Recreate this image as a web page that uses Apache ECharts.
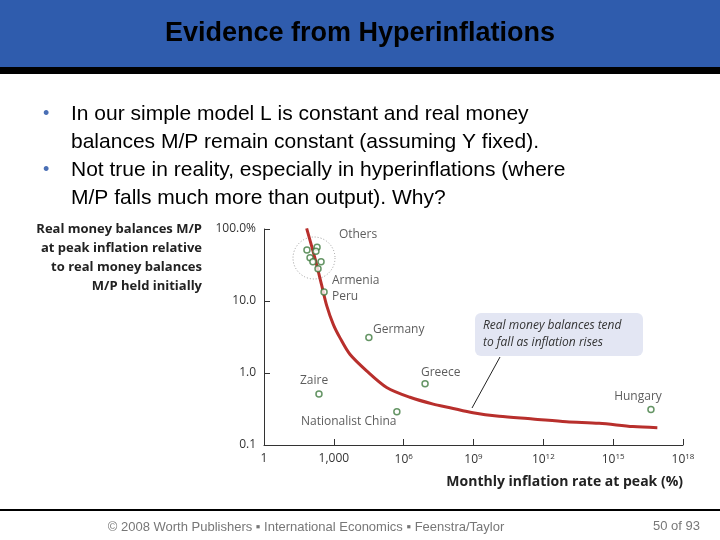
<!DOCTYPE html>
<html lang="en">
<head>
    <meta charset="UTF-8">
    <title>Evidence from Hyperinflations</title>
    <style>
        body { margin: 0; background: #fff; }
    </style>
</head>
<body>
<div id="main" style="width: 720px;height:540px;"></div>
<script src="https://cdn.jsdelivr.net/npm/echarts@6/dist/echarts.min.js"></script>
<script type="text/javascript">
    // 国家数据: [月通胀率峰值 %, 实际货币余额 %]
    var countryNames = ['Others', 'Others', 'Others', 'Others', 'Others', 'Others', 'Others',
        'Armenia/Peru', 'Germany', 'Zaire', 'Nationalist China', 'Greece', 'Hungary'];
    var inflationPeak = [70, 190, 170, 95, 126, 282, 209, 380, 32000, 230, 5.1e5, 8.3e6, 4.2e16];
    var moneyBalance = [51, 56, 49, 40, 35, 35, 28, 13.3, 3.1, 0.51, 0.29, 0.71, 0.31];

    // 趋势线
    var curveX = [68, 155, 300, 490, 955, 1820, 4900, 25700, 1.86e5, 1.86e6, 1.86e7, 9.8e7,
        9.5e8, 1.26e10, 3.5e11, 9.8e12, 2.5e14, 7.1e15, 7.9e16];
    var curveY = [102, 39, 16.6, 8.7, 4.7, 3.1, 1.82, 1.07, 0.63, 0.46, 0.37, 0.33,
        0.28, 0.25, 0.23, 0.21, 0.20, 0.18, 0.174];

    var labels = [
        {name: 'Others', x: 1650, y: 85},
        {name: 'Armenia', x: 830, y: 19},
        {name: 'Peru', x: 830, y: 11.7},
        {name: 'Germany', x: 48000, y: 4.0},
        {name: 'Zaire', x: 35, y: 0.78},
        {name: 'Nationalist China', x: 39, y: 0.21},
        {name: 'Greece', x: 5.5e6, y: 1.0},
        {name: 'Hungary', x: 1.1e15, y: 0.47}
    ];

    var points = inflationPeak.map(function (v, i) { return [v, moneyBalance[i]]; });
    var curve = curveX.map(function (v, i) { return [v, curveY[i]]; });

    var chart = echarts.init(document.getElementById('main'));
    chart.setOption({
        animation: false,
        grid: {left: 264, right: 37, top: 229, bottom: 95},
        xAxis: {
            type: 'log', logBase: 10, min: 1, max: 1e18, interval: 3,
            name: 'Monthly inflation rate at peak (%)',
            nameLocation: 'end', nameGap: 0,
            nameTextStyle: {fontSize: 14, fontWeight: 'bold', color: '#222', align: 'right',
                verticalAlign: 'top', padding: [30, 0, 0, 0], fontFamily: 'Open Sans'},
            axisLine: {lineStyle: {color: '#333'}},
            axisTick: {inside: true, length: 6, lineStyle: {color: '#333'}},
            splitLine: {show: false},
            axisLabel: {
                color: '#333', fontSize: 12, fontFamily: 'Open Sans',
                formatter: function (v) {
                    var e = Math.round(Math.log10(v));
                    if (e === 0) return '1';
                    if (e === 3) return '1,000';
                    return '10{sup|' + e + '}';
                },
                rich: {sup: {fontSize: 8, verticalAlign: 'top', padding: [0, 0, 6, 0]}}
            }
        },
        yAxis: {
            type: 'log', logBase: 10, min: 0.1, max: 100, interval: 1,
            axisLine: {lineStyle: {color: '#333'}},
            axisTick: {inside: true, length: 6, lineStyle: {color: '#333'}},
            splitLine: {show: false},
            axisLabel: {
                color: '#333', fontSize: 12, fontFamily: 'Open Sans', margin: 8,
                formatter: function (v) {
                    if (v >= 99) return '100.0%';
                    return v < 0.5 ? '0.1' : v.toFixed(1);
                }
            }
        },
        series: [{
            type: 'line', data: curve, smooth: 0.3, symbol: 'none',
            lineStyle: {color: '#b82f2c', width: 3}, z: 2
        }, {
            type: 'scatter', data: points, symbol: 'circle', symbolSize: 6,
            itemStyle: {color: '#fff', borderColor: '#3f7a3f', borderWidth: 1.5}, z: 3
        }, {
            type: 'scatter', symbolSize: 0,
            data: labels.map(function (l) { return {name: l.name, value: [l.x, l.y]}; }),
            label: {show: true, formatter: '{b}', position: 'inside', color: '#333',
                fontSize: 12, fontFamily: 'Open Sans', align: 'left'}
        }],
        graphic: [
            {type: 'rect', shape: {x: 0, y: 0, width: 720, height: 67}, style: {fill: '#2f5cad'}},
            {type: 'rect', shape: {x: 0, y: 67, width: 720, height: 7}, style: {fill: '#000'}},
            {type: 'text', x: 360, y: 34, style: {text: 'Evidence from Hyperinflations', fill: '#000',
                font: 'bold 27px Liberation Sans', align: 'center', verticalAlign: 'middle'}},
            {type: 'text', x: 43, y: 114, style: {text: '•', fill: '#4a6fb5', font: '18px Liberation Sans', verticalAlign: 'middle'}},
            {type: 'text', x: 43, y: 170, style: {text: '•', fill: '#4a6fb5', font: '18px Liberation Sans', verticalAlign: 'middle'}},
            {type: 'text', x: 71, y: 100, style: {text: 'In our simple model L is constant and real money\nbalances M/P remain constant (assuming Y fixed).\nNot true in reality, especially in hyperinflations (where\nM/P falls much more than output). Why?',
                fill: '#000', font: '21px Liberation Sans', lineHeight: 28}},
            {type: 'text', x: 202, y: 220, style: {text: 'Real money balances M/P\nat peak inflation relative\nto real money balances\nM/P held initially',
                fill: '#222', font: 'bold 13px Open Sans', align: 'right', lineHeight: 19}},
            {type: 'circle', shape: {cx: 314, cy: 258, r: 21}, style: {fill: 'none', stroke: '#999', lineDash: [1, 2], lineWidth: 1}},
            {type: 'line', shape: {x1: 500, y1: 357, x2: 472, y2: 408}, style: {stroke: '#222', lineWidth: 1}},
            {type: 'rect', shape: {x: 475, y: 313, width: 168, height: 43, r: 6}, style: {fill: '#e3e6f3'}},
            {type: 'text', x: 483, y: 334, style: {text: 'Real money balances tend\nto fall as inflation rises',
                fill: '#333', font: 'italic 12px Open Sans', lineHeight: 17, verticalAlign: 'middle'}},
            {type: 'rect', shape: {x: 0, y: 509, width: 720, height: 2}, style: {fill: '#000'}},
            {type: 'text', x: 306, y: 527, style: {text: '© 2008 Worth Publishers ▪ International Economics ▪ Feenstra/Taylor',
                fill: '#777', font: '13px Liberation Sans', align: 'center', verticalAlign: 'middle'}},
            {type: 'text', x: 700, y: 526, style: {text: '50 of 93', fill: '#777', font: '13px Liberation Sans', align: 'right', verticalAlign: 'middle'}}
        ]
    });
</script>
</body>
</html>
